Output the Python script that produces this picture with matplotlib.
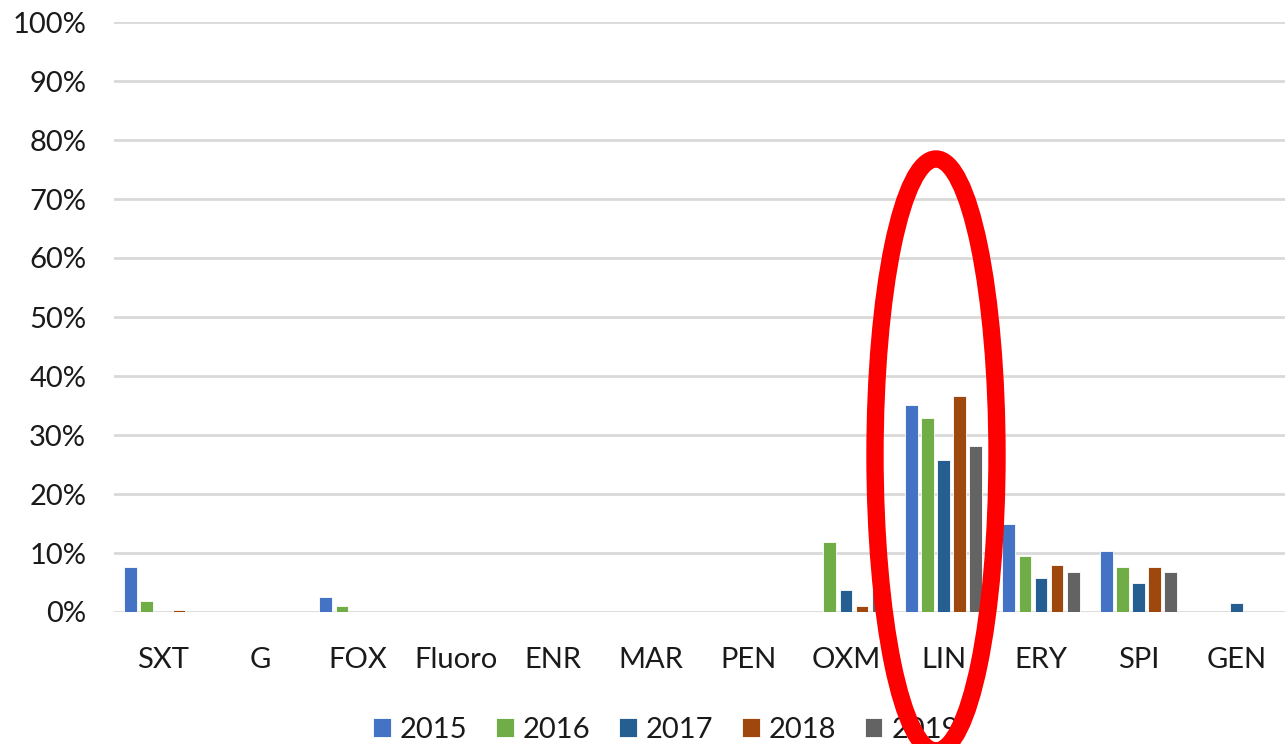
import matplotlib.pyplot as plt
import numpy as np
from matplotlib.patches import Ellipse
from matplotlib.ticker import PercentFormatter

categories = ["SXT", "G", "FOX", "Fluoro", "ENR", "MAR", "PEN", "OXM", "LIN", "ERY", "SPI", "GEN"]
years = ["2015", "2016", "2017", "2018", "2019"]

# resistance share per year (fraction)
v2015 = [0.077, 0, 0.025, 0, 0, 0, 0, 0, 0.351, 0.150, 0.104, 0]
v2016 = [0.019, 0, 0.010, 0, 0, 0, 0, 0.119, 0.329, 0.095, 0.077, 0]
v2017 = [0, 0, 0, 0, 0, 0, 0, 0.037, 0.257, 0.058, 0.050, 0.016]
v2018 = [0.004, 0, 0, 0, 0, 0, 0, 0.010, 0.366, 0.080, 0.077, 0]
v2019 = [0, 0, 0, 0, 0, 0, 0, 0.037, 0.281, 0.068, 0.068, 0]

series = [v2015, v2016, v2017, v2018, v2019]
colors = ["#4472C4", "#70AD47", "#255E91", "#9E480E", "#636363"]

plt.rcParams["font.family"] = ["Lato", "DejaVu Sans"]

fig = plt.figure(figsize=(12.88, 7.44), dpi=100)
ax = fig.add_axes([114 / 1288, 1 - 612 / 744, (1285 - 114) / 1288, 590 / 744])

x = np.arange(len(categories))
pitch = 0.165
width = 0.13
for i, (vals, year, c) in enumerate(zip(series, years, colors)):
    offs = (i - 2) * pitch
    ax.bar(x + offs, vals, width=width, color=c, label=year,
           edgecolor="white", linewidth=0.6, zorder=3)

ax.set_xlim(-0.5, len(categories) - 0.5)
ax.set_ylim(0, 1.0)
ax.set_yticks(np.arange(0, 1.01, 0.1))
ax.yaxis.set_major_formatter(PercentFormatter(1.0, decimals=0))
ax.set_xticks(x)
ax.set_xticklabels(categories)
ax.tick_params(axis="both", length=0, labelsize=21, colors="#1a1a1a")
ax.tick_params(axis="x", pad=25)
ax.tick_params(axis="y", pad=20)
ax.grid(axis="y", color="#d9d9d9", linewidth=2, zorder=0)
for s in ax.spines.values():
    s.set_visible(False)

fig.legend(loc="center", bbox_to_anchor=(0.517, 1 - 730 / 744), ncol=5,
           frameon=False, fontsize=21, handlelength=0.6, handleheight=0.6,
           handletextpad=0.3, columnspacing=1.0, labelcolor="#1a1a1a")

# red highlight around LIN
fig.add_artist(Ellipse((936 / 1288, 1 - 455 / 744), 122 / 1288, 592 / 744,
                       transform=fig.transFigure, fill=False,
                       edgecolor="#ff0000", linewidth=12.5, zorder=10))

fig.savefig("out.png", dpi=100)
